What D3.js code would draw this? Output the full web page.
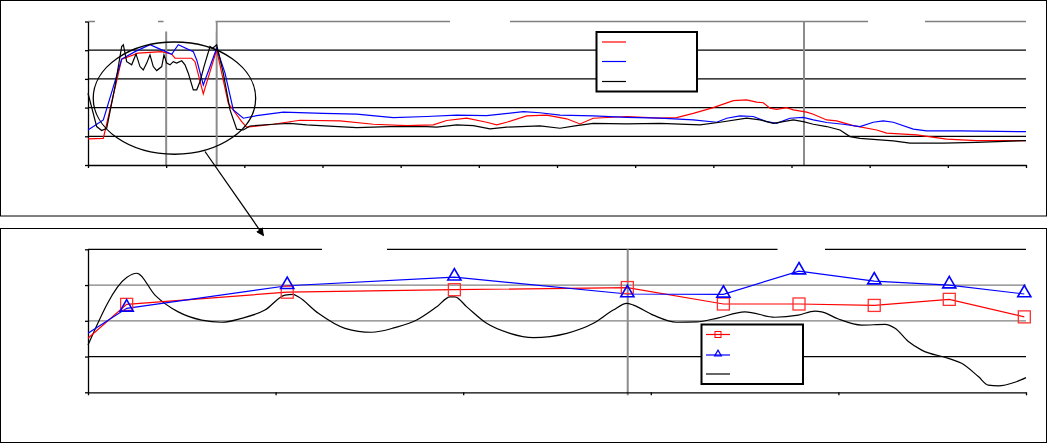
<!DOCTYPE html>
<html><head><meta charset="utf-8">
<script src="https://cdn.jsdelivr.net/npm/d3@7"></script>
<style>html,body{margin:0;padding:0;background:#fff;}svg{display:block;}</style>
</head><body>
<svg id="c" width="1048" height="444"></svg>
<script>
// ---------- DATA (top chart: x 0..120, y 0..50) ----------
const topRedX = [0,1.96,4.31,6.43,9.43,10.71,11.13,13.27,13.69,14.75,16.46,17.95,19.66,20.30,23.70,27.12,32.24,36.50,40.77,44.17,45.89,48.45,51.00,52.28,53.56,56.12,58.68,61.24,62.94,64.64,68.91,73.18,75.31,77.43,79.99,82.55,84.26,85.54,86.39,87.25,88.10,89.38,90.23,91.94,92.79,94.50,95.78,97.90,100.90,102.17,106.01,109.85,113.69,120];
const topRedY = [9.1,9.3,36.9,39.0,39.5,38.6,37.2,37.2,36.0,24.8,40.1,21.5,15.1,13.2,14.2,15.6,15.4,14.2,13.7,14.0,15.5,16.3,14.9,14.0,14.9,17.1,17.4,16.1,14.3,16.3,16.9,16.3,16.5,18.0,20.0,22.4,22.7,21.9,21.7,19.8,19.4,20.0,19.2,18.4,17.7,15.7,15.4,13.7,12.2,11.1,10.5,9.0,8.5,8.5];

const topBlueX = [0,1.96,4.31,6.01,7.93,9.43,10.71,11.55,13.47,13.91,14.75,15.61,16.46,17.53,18.59,19.87,21.58,24.98,30.10,34.37,39.06,43.33,47.17,51.00,55.69,57.82,60.38,64.64,68.91,73.18,77.43,80.43,81.71,83.41,85.11,86.82,88.10,89.80,91.51,92.79,94.50,96.62,98.76,100.46,101.74,103.02,105.58,107.29,111.55,120];
const topBlueY = [12.2,15.7,36.9,39.5,41.9,40.1,38.6,41.9,39.5,36.6,27.9,34.3,40.7,32.0,19.2,16.3,17.2,18.4,18.0,17.7,16.5,16.9,17.4,17.2,18.6,18.2,17.4,17.1,16.6,16.3,15.7,14.9,16.3,17.1,16.9,15.1,14.5,16.3,16.6,15.7,14.8,14.2,13.4,14.9,15.4,14.9,12.5,11.9,11.9,11.6];

const topBlackX = [0,1.11,1.75,2.39,3.45,4.31,4.52,4.95,5.59,6.14,6.65,7.07,7.51,7.93,8.35,8.79,9.43,9.72,10.07,10.49,10.91,11.35,11.99,12.41,12.83,13.47,13.91,14.33,14.84,15.61,15.95,16.46,17.31,18.17,19.02,19.87,20.72,23.70,25.84,27.98,34.37,38.63,43.33,44.61,47.17,49.29,51.43,53.56,57.82,60.38,62.52,64.64,68.91,73.18,78.30,80.85,84.26,85.97,87.67,90.23,91.51,92.79,94.50,96.20,97.48,98.76,103.02,105.16,109.42,113.69,120];
const topBlackY = [25.0,13.4,12.0,12.8,27.3,41.3,41.9,36.0,34.9,38.7,34.3,33.1,35.5,38.4,34.3,32.9,34.3,38.4,35.5,34.9,36.0,35.5,36.3,34.9,32.0,26.2,26.2,29.1,34.3,41.3,40.7,41.9,32.0,19.2,12.5,12.2,13.6,14.2,14.5,14.0,13.0,13.4,13.4,13.2,14.0,13.7,12.6,13.2,13.6,12.8,13.7,14.5,14.3,14.5,14.0,14.9,16.3,15.7,14.5,15.7,15.1,14.2,13.4,12.2,9.9,9.3,8.4,7.6,7.6,7.9,8.5];

const topXTicks = [0,10,20,30,40,50,60,70,80,90,100,110,120];
const topYTicks = [0,10,20,30,40,50];
const topMarkersX = [10, 16.46, 91.6];   // vertical reference lines

// ---------- DATA (bottom chart: x 0..50, y 0..40) ----------
const botRedX  = [0,2.06,10.62,19.53,28.75,33.87,37.90,41.91,45.91,49.91];
const botRedY  = [15.1,24.6,28.0,28.7,29.3,24.7,24.7,24.3,26.0,21.1];
const botBlueX = [0,2.06,10.62,19.53,28.75,33.87,37.90,41.91,45.91,49.91];
const botBlueY = [16.5,23.5,29.8,32.2,27.5,27.4,33.9,31.1,30.0,27.5];
const botBlackX = [0,2.06,2.60,3.57,4.81,6.06,7.13,8.19,9.43,10.50,10.94,11.21,12.28,13.70,15.12,16.36,17.52,18.59,19.30,19.56,20.19,21.25,22.49,23.74,25.52,26.94,28.0,28.72,29.07,30.13,31.38,32.45,33.51,35.02,36.62,37.86,38.75,39.11,40.0,41.24,42.48,43.02,43.73,44.44,45.86,46.57,47.46,47.99,48.52,49.41,50.0];
const botBlackY = [13.2,32.1,33.3,27.2,22.5,20.2,19.6,20.7,23.0,27.2,27.4,26.7,22.1,17.9,16.8,18.1,20.2,23.9,26.7,26.7,23.9,19.3,16.5,15.3,16.5,19.3,23.0,24.9,24.4,21.6,19.6,19.7,20.7,22.5,21.0,21.6,22.7,22.5,20.5,18.8,19.0,17.9,14.2,11.8,9.5,8.1,4.4,2.0,1.8,2.8,4.1];
const botXTicks = [0,10,20,30,40,50];
const botYTicks = [0,10,20,30,40];
const botGridColors = ["#000","#000","#808080","#808080","#000"];
const botMarkerX = [28.77];

// ---------- DRAW ----------
const svg = d3.select("#c");
svg.append("rect").attr("x",0.5).attr("y",0.5).attr("width",1046).attr("height",215.5)
  .attr("fill","#fff").attr("stroke","#000");
svg.append("rect").attr("x",0.5).attr("y",228.5).attr("width",1046).attr("height",214)
  .attr("fill","#fff").attr("stroke","#000");

const defs = svg.append("defs");
defs.append("marker").attr("id","arr").attr("viewBox","0 0 10 10").attr("refX",9).attr("refY",5)
  .attr("markerWidth",10).attr("markerHeight",8).attr("markerUnits","userSpaceOnUse").attr("orient","auto")
  .append("path").attr("d","M0,0L10,5L0,10z").attr("fill","#000");

function zip(xs, ys){ return xs.map((x,i)=>[x, ys[i]]); }

// ===== TOP =====
const xT = d3.scaleLinear([0,120],[88,1026]);
const yT = d3.scaleLinear([0,50],[165,21.5]);
const gT = svg.append("g");

topYTicks.slice(1).forEach((t,i)=>{
  gT.append("line").attr("x1",xT(0)).attr("x2",xT(120)).attr("y1",yT(t)).attr("y2",yT(t))
    .attr("stroke", t===50 ? "#808080" : "#000").attr("stroke-width",1.3);
});
topMarkersX.forEach(v=>{
  gT.append("line").attr("x1",xT(v)).attr("x2",xT(v)).attr("y1",yT(50)).attr("y2",yT(0))
    .attr("stroke","#8c8c8c").attr("stroke-width",2);
});
// blank label areas (the original had text areas masking the top line)
[[95,158],[163.5,215.5]].forEach(r=>{
  gT.append("rect").attr("x",r[0]).attr("y",14).attr("width",r[1]-r[0]).attr("height",17.5).attr("fill","#fff");
});
[[450,510],[868,925]].forEach(r=>{
  gT.append("rect").attr("x",r[0]).attr("y",14).attr("width",r[1]-r[0]).attr("height",12).attr("fill","#fff");
});

gT.append("g").attr("transform",`translate(${xT(0)},0)`)
  .call(d3.axisLeft(yT).tickValues(topYTicks).tickSize(3).tickSizeOuter(0).tickFormat(""))
  .call(g=>g.selectAll("line,path").attr("stroke","#000").attr("stroke-width",1.3));
gT.append("g").attr("transform",`translate(0,${yT(0)})`)
  .call(d3.axisBottom(xT).tickValues(topXTicks).tickSize(3).tickSizeOuter(0).tickFormat(""))
  .call(g=>g.selectAll("line,path").attr("stroke","#000").attr("stroke-width",1.3));

const lineT = d3.line().x(d=>xT(d[0])).y(d=>yT(d[1]));
[[topRedX,topRedY,"#ff0000"],[topBlueX,topBlueY,"#0000ff"],[topBlackX,topBlackY,"#000"]].forEach(s=>{
  gT.append("path").attr("d",lineT(zip(s[0],s[1]))).attr("fill","none").attr("stroke",s[2]).attr("stroke-width",1.2);
});

// legend top
const lgT = svg.append("g");
lgT.append("rect").attr("x",596.5).attr("y",32).attr("width",100.5).attr("height",59.5)
  .attr("fill","#fff").attr("stroke","#000").attr("stroke-width",2);
[["#ff0000",42],["#0000ff",61.5],["#000",81.5]].forEach(e=>{
  lgT.append("line").attr("x1",602).attr("x2",626).attr("y1",e[1]).attr("y2",e[1]).attr("stroke",e[0]).attr("stroke-width",1.2);
});

// ellipse + arrow
svg.append("ellipse").attr("cx",xT(11.06)).attr("cy",yT(23.3))
  .attr("rx",xT(11.06+10.39)-xT(11.06)).attr("ry",yT(23.3)-yT(23.3+19.55))
  .attr("fill","none").attr("stroke","#000").attr("stroke-width",1.3);
svg.append("line").attr("x1",205).attr("y1",151.5).attr("x2",263.5).attr("y2",235.5)
  .attr("stroke","#000").attr("stroke-width",1.3).attr("marker-end","url(#arr)");

// ===== BOTTOM =====
const xB = d3.scaleLinear([0,50],[88,1026]);
const yB = d3.scaleLinear([0,40],[392.3,249.3]);
const gB = svg.append("g");
botYTicks.slice(1).forEach((t,i)=>{
  gB.append("line").attr("x1",xB(0)).attr("x2",xB(50)).attr("y1",yB(t)).attr("y2",yB(t))
    .attr("stroke", botGridColors[i+1] === "#808080" ? "#808080" : "#000").attr("stroke-width",1.3);
});
[[322,387],[777.5,825]].forEach(r=>{
  gB.append("rect").attr("x",r[0]).attr("y",243).attr("width",r[1]-r[0]).attr("height",12).attr("fill","#fff");
});
botMarkerX.forEach(v=>{
  gB.append("line").attr("x1",xB(v)).attr("x2",xB(v)).attr("y1",yB(40)).attr("y2",yB(0)+3)
    .attr("stroke","#8c8c8c").attr("stroke-width",2);
});
gB.append("g").attr("transform",`translate(${xB(0)},0)`)
  .call(d3.axisLeft(yB).tickValues(botYTicks).tickSize(3).tickSizeOuter(0).tickFormat(""))
  .call(g=>g.selectAll("line,path").attr("stroke","#000").attr("stroke-width",1.3));
gB.append("g").attr("transform",`translate(0,${yB(0)})`)
  .call(d3.axisBottom(xB).tickValues(botXTicks).tickSize(3).tickSizeOuter(0).tickFormat(""))
  .call(g=>g.selectAll("line,path").attr("stroke","#000").attr("stroke-width",1.3));

const lineB = d3.line().x(d=>xB(d[0])).y(d=>yB(d[1]));
gB.append("path").attr("d",d3.line().curve(d3.curveMonotoneX).x(d=>xB(d[0])).y(d=>yB(d[1]))(zip(botBlackX,botBlackY)))
  .attr("fill","none").attr("stroke","#000").attr("stroke-width",1.2);
gB.append("path").attr("d",lineB(zip(botRedX,botRedY))).attr("fill","none").attr("stroke","#ff0000").attr("stroke-width",1.2);
gB.append("path").attr("d",lineB(zip(botBlueX,botBlueY))).attr("fill","none").attr("stroke","#0000ff").attr("stroke-width",1.2);

const redPts = zip(botRedX,botRedY).slice(1);
gB.selectAll("rect.sq").data(redPts).join("rect").attr("class","sq")
  .attr("x",d=>xB(d[0])-6).attr("y",d=>yB(d[1])-6).attr("width",12).attr("height",12)
  .attr("fill","none").attr("stroke","#ff3030").attr("stroke-width",1.3);
const tri = d3.symbol().type(d3.symbolTriangle).size(75);
const bluePts = zip(botBlueX,botBlueY).slice(1);
gB.selectAll("path.tr").data(bluePts).join("path").attr("class","tr")
  .attr("transform",d=>`translate(${xB(d[0])},${yB(d[1])-1})`).attr("d",tri())
  .attr("fill","none").attr("stroke","#0000ff").attr("stroke-width",1.6);

// legend bottom
const lgB = svg.append("g");
lgB.append("rect").attr("x",701.5).attr("y",324.5).attr("width",101.5).attr("height",59.5)
  .attr("fill","#fff").attr("stroke","#000").attr("stroke-width",2);
[["#ff0000",334.5],["#0000ff",355],["#000",374]].forEach(e=>{
  lgB.append("line").attr("x1",706).attr("x2",730).attr("y1",e[1]).attr("y2",e[1]).attr("stroke",e[0]).attr("stroke-width",1.2);
});
lgB.append("rect").attr("x",715).attr("y",331.5).attr("width",6).attr("height",6).attr("fill","none").attr("stroke","#ff0000");
lgB.append("path").attr("transform","translate(718,354)").attr("d",d3.symbol().type(d3.symbolTriangle).size(20)())
  .attr("fill","none").attr("stroke","#0000ff").attr("stroke-width",1.2);
</script>
</body></html>
